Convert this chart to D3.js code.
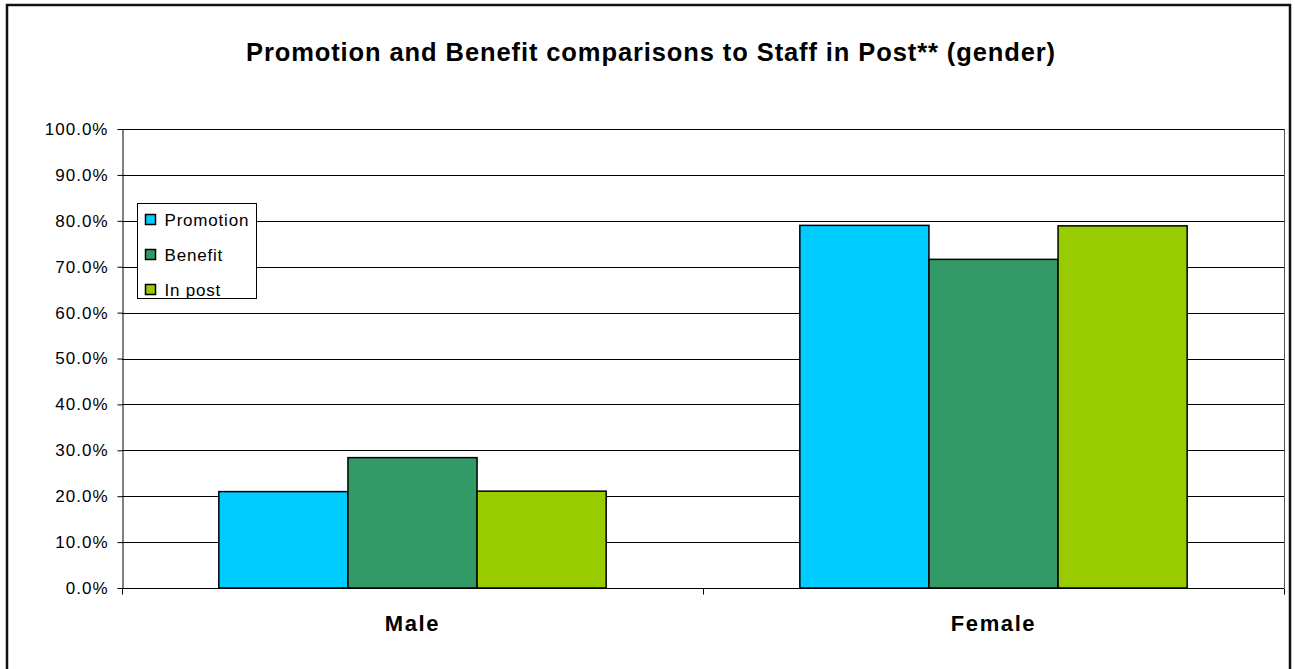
<!DOCTYPE html>
<html>
<head>
<meta charset="utf-8">
<script src="https://cdn.jsdelivr.net/npm/d3@7"></script>
<style>
  body { margin: 0; background: #fff; }
  svg text { font-family: "Liberation Sans", Arial, sans-serif; }
</style>
</head>
<body>
<div id="chart"></div>
<script>
// chart data
var categories = ['Male', 'Female'];
var seriesNames = ['Promotion', 'Benefit', 'In post'];
var promotion = [0.210, 0.790];
var benefit = [0.284, 0.716];
var inPost = [0.211, 0.789];
var yTicks = [0, 0.1, 0.2, 0.3, 0.4, 0.5, 0.6, 0.7, 0.8, 0.9, 1.0];
var colors = ['#00CCFF', '#339966', '#99CC00'];

var allSeries = [promotion, benefit, inPost];

var W = 1295, H = 669;
var plot = { left: 122, right: 1284, top: 129, bottom: 588 };

var svg = d3.select('#chart').append('svg')
    .attr('width', W)
    .attr('height', H);

// chart area border
svg.append('rect')
    .attr('x', 7).attr('y', 5)
    .attr('width', 1283).attr('height', 680)
    .attr('fill', '#fff')
    .attr('stroke', '#111')
    .attr('stroke-width', 2.5);

// title
svg.append('text')
    .attr('x', 651).attr('y', 61)
    .attr('text-anchor', 'middle')
    .style('font-size', '25.5px')
    .style('font-weight', 'bold')
    .style('letter-spacing', '0.9px')
    .text('Promotion and Benefit comparisons to Staff in Post** (gender)');

var y = d3.scaleLinear().domain([0, 1]).range([plot.bottom, plot.top]);
var x0 = d3.scaleBand().domain(categories).range([plot.left, plot.right]);
var x1 = d3.scaleBand().domain(seriesNames).range([0, x0.bandwidth()])
    .paddingInner(0).paddingOuter(0.75);

// gridlines
svg.append('g').selectAll('line')
    .data(yTicks.slice(1))
    .enter().append('line')
    .attr('x1', plot.left).attr('x2', plot.right)
    .attr('y1', function(d) { return Math.round(y(d)) + 0.5; })
    .attr('y2', function(d) { return Math.round(y(d)) + 0.5; })
    .attr('stroke', '#000')
    .attr('stroke-width', 1);

// plot frame right edge
svg.append('line')
    .attr('x1', plot.right + 0.5).attr('x2', plot.right + 0.5)
    .attr('y1', plot.top).attr('y2', plot.bottom)
    .attr('stroke', '#555');

// bars
var groups = svg.append('g').selectAll('g')
    .data(categories)
    .enter().append('g')
    .attr('transform', function(d) { return 'translate(' + x0(d) + ',0)'; });

groups.selectAll('rect')
    .data(function(d, i) {
        return seriesNames.map(function(s, j) { return { s: s, v: allSeries[j][i], c: colors[j] }; });
    })
    .enter().append('rect')
    .attr('x', function(d) { return x1(d.s); })
    .attr('y', function(d) { return y(d.v); })
    .attr('width', x1.bandwidth())
    .attr('height', function(d) { return plot.bottom - y(d.v); })
    .attr('fill', function(d) { return d.c; })
    .attr('stroke', '#000')
    .attr('stroke-width', 1.5);

// y axis
var yAxis = d3.axisLeft(y)
    .tickValues(yTicks)
    .tickFormat(d3.format('.1%'))
    .tickSize(5)
    .tickSizeOuter(0);

var gy = svg.append('g')
    .attr('transform', 'translate(' + (plot.left + 0.5) + ',0)')
    .call(yAxis);
gy.select('.domain').attr('stroke', '#000');
gy.selectAll('.tick line').attr('stroke', '#000');
gy.selectAll('.tick text')
    .attr('x', -14)
    .attr('fill', '#000')
    .style('font-size', '17px')
    .style('letter-spacing', '1px')
    .style('font-family', '"Liberation Sans", Arial, sans-serif');

// x axis
var gx = svg.append('g')
    .attr('transform', 'translate(0,' + (plot.bottom + 0.5) + ')');
gx.append('line')
    .attr('x1', plot.left).attr('x2', plot.right)
    .attr('stroke', '#000');
var xTickPos = [plot.left, x0('Female'), plot.right];
gx.selectAll('.xt')
    .data(xTickPos)
    .enter().append('line')
    .attr('class', 'xt')
    .attr('x1', function(d) { return Math.round(d) + 0.5; })
    .attr('x2', function(d) { return Math.round(d) + 0.5; })
    .attr('y1', 0).attr('y2', 6)
    .attr('stroke', '#000');
gx.selectAll('.xl')
    .data(categories)
    .enter().append('text')
    .attr('class', 'xl')
    .attr('x', function(d) { return x0(d) + x0.bandwidth() / 2; })
    .attr('y', 42)
    .attr('text-anchor', 'middle')
    .style('font-size', '22px')
    .style('font-weight', 'bold')
    .style('letter-spacing', '1.6px')
    .text(function(d) { return d; });

// legend
var legend = svg.append('g').attr('transform', 'translate(137.5,203.5)');
legend.append('rect')
    .attr('width', 119).attr('height', 95)
    .attr('fill', '#fff')
    .attr('stroke', '#000');
var items = legend.selectAll('g.item')
    .data(seriesNames)
    .enter().append('g')
    .attr('class', 'item')
    .attr('transform', function(d, i) { return 'translate(0,' + (16 + i * 35) + ')'; });
items.append('rect')
    .attr('x', 8).attr('y', -5)
    .attr('width', 10).attr('height', 10)
    .attr('fill', function(d, i) { return colors[i]; })
    .attr('stroke', '#000')
    .attr('stroke-width', 1.5);
items.append('text')
    .attr('x', 27).attr('y', 6)
    .style('font-size', '17px')
    .style('letter-spacing', '0.8px')
    .text(function(d) { return d; });
</script>
</body>
</html>
